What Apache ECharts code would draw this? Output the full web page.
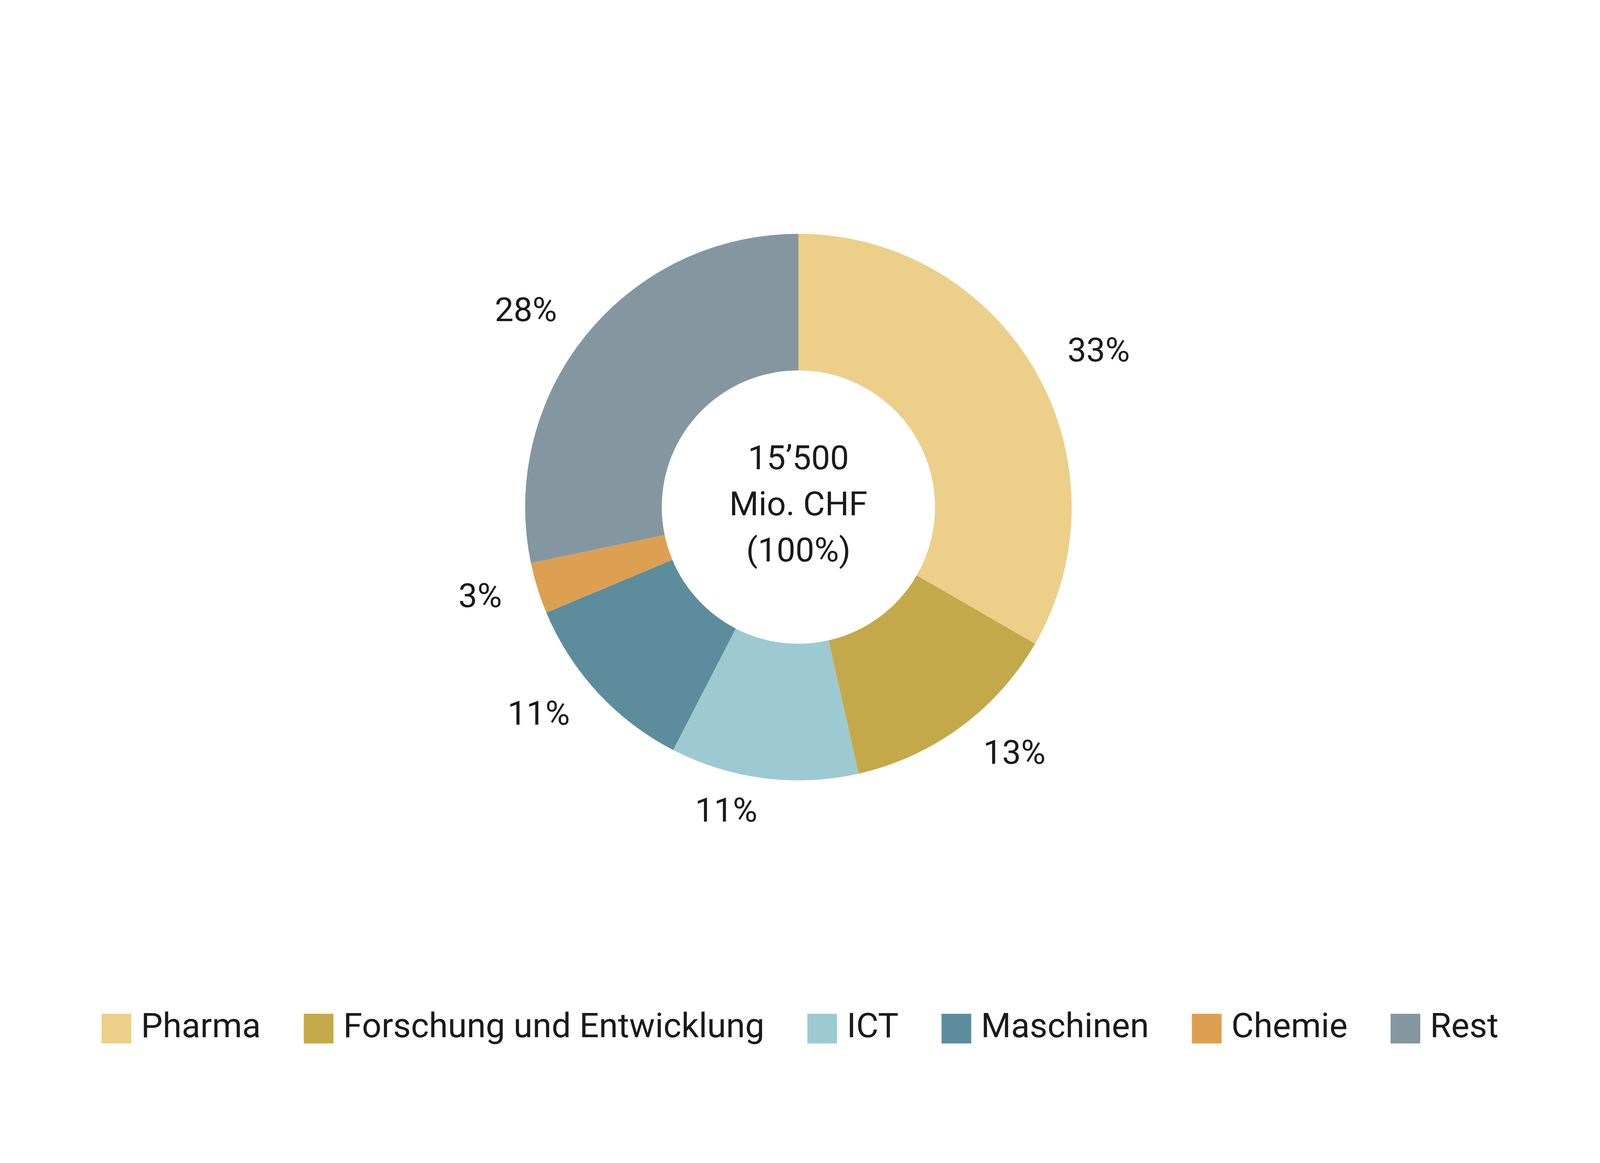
<!DOCTYPE html>
<html>
<head>
<meta charset="utf-8">
<script src="https://cdn.jsdelivr.net/npm/echarts@6/dist/echarts.min.js"></script>
<style>html,body{margin:0;padding:0;background:#fff;overflow:hidden}#chart{width:100vw;height:100vh}</style>
</head>
<body>
<div id="chart"></div>
<script>
// Anteile nach Branche
var categories = ['Pharma', 'Forschung und Entwicklung', 'ICT', 'Maschinen', 'Chemie', 'Rest'];
var shares = [33, 13, 11, 11, 3, 28];
var colors = ['#ECCF89', '#C4A94A', '#9DCAD2', '#5D8D9C', '#DD9F52', '#8497A0'];
var centerText = "15\u2019500\nMio. CHF\n(100%)";

var chart = echarts.init(document.getElementById('chart'));
var data = [];
for (var i = 0; i < categories.length; i++) {
  data.push({ name: categories[i], value: shares[i], itemStyle: { color: colors[i] } });
}
var font = 'Roboto, "Noto Sans", sans-serif';
chart.setOption({
  animation: false,
  textStyle: { fontFamily: font },
  legend: {
    top: '86.8%',
    left: 'center',
    itemWidth: 76, itemHeight: 76, itemGap: 110,
    icon: 'rect',
    textStyle: { fontSize: 88, color: '#1a1a1a', padding: [0, 0, 0, 20], fontFamily: font },
    data: categories
  },
  series: [{
    type: 'pie',
    center: ['49.9%', '43.6%'],
    radius: ['23.5%', '47%'],
    startAngle: 90,
    clockwise: true,
    label: {
      show: true, position: 'outside',
      formatter: '{c}%', fontSize: 86, color: '#1a1a1a', fontFamily: font
    },
    labelLine: { show: false, length: 90, length2: 0 },
    emphasis: { disabled: true },
    data: data
  }, {
    // Mitteltext
    type: 'pie',
    center: ['49.9%', '43.6%'],
    radius: ['0%', '1%'],
    silent: true,
    itemStyle: { color: 'rgba(0,0,0,0)' },
    label: {
      show: true, position: 'center',
      formatter: centerText, fontSize: 86, lineHeight: 118, color: '#1a1a1a', fontFamily: font
    },
    labelLine: { show: false },
    data: [{ name: 'Total', value: 1 }]
  }]
});
window.addEventListener('resize', function () { chart.resize(); });
</script>
</body>
</html>
